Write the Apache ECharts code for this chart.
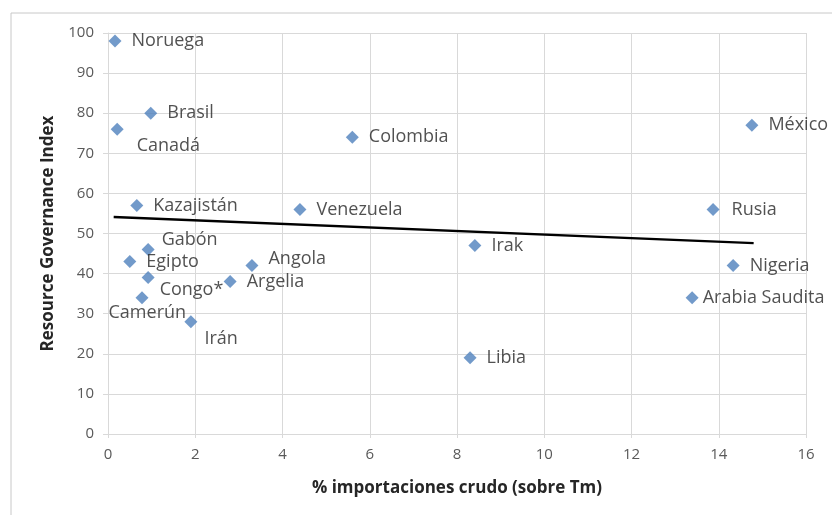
<!DOCTYPE html>
<html>
<head>
<meta charset="utf-8">
<script src="https://cdn.jsdelivr.net/npm/echarts@6/dist/echarts.min.js"></script>
<style>
  html, body { margin: 0; padding: 0; background: #fff; }
  #chart { width: 832px; height: 515px; }
</style>
</head>
<body>
<div id="chart"></div>
<script>
const countries = ['Noruega', 'Brasil', 'Canadá', 'Colombia', 'México', 'Kazajistán', 'Venezuela', 'Rusia',
  'Gabón', 'Egipto', 'Angola', 'Irak', 'Nigeria', 'Congo*', 'Argelia', 'Arabia Saudita', 'Camerún', 'Irán', 'Libia']
const importPct = [0.16, 0.98, 0.21, 5.6, 14.76, 0.66, 4.4, 13.87, 0.92, 0.5, 3.3, 8.41, 14.33, 0.92, 2.8, 13.39, 0.78, 1.9, 8.3]
const rgiScore = [98, 80, 76, 74, 77, 57, 56, 56, 46, 43, 42, 47, 42, 39, 38, 34, 34, 28, 19]
// trend line end points
const trendX = [0.13, 14.8]
const trendY = [54.1, 47.6]

// label nudges so names sit where the original has them
const labelOffsets = {
  'Canadá': [3, 17],
  'Gabón': [-3, -10],
  'Congo*': [-5, 12],
  'Camerún': [-50, 15],
  'Irán': [-3, 17],
  'Angola': [0, -7],
  'Rusia': [2, 0],
  'Arabia Saudita': [-6, 0]
}

const chart = echarts.init(document.getElementById('chart'))

const points = countries.map((name, i) => ({
  name,
  value: [importPct[i], rgiScore[i]],
  label: { offset: labelOffsets[name] || [0, 0] }
}))

const font = '"Open Sans", "Noto Sans", sans-serif'

const option = {
  backgroundColor: '#fff',
  animation: false,
  graphic: [{
    type: 'rect',
    shape: { x: 11, y: 13, width: 840, height: 540 },
    style: { fill: 'none', stroke: '#c8c8c8', lineWidth: 1 },
    silent: true
  }],
  grid: { left: 108, right: 26, top: 33, bottom: 81 },
  xAxis: {
    type: 'value',
    min: 0,
    max: 16,
    interval: 2,
    name: '% importaciones crudo (sobre Tm)',
    nameLocation: 'middle',
    nameGap: 46,
    nameTextStyle: { fontFamily: font, fontSize: 17, fontWeight: 'bold', color: '#262626' },
    axisLine: { show: true, lineStyle: { color: '#d9d9d9' } },
    axisTick: { show: true, length: 4, lineStyle: { color: '#d9d9d9' } },
    axisLabel: { fontFamily: font, fontSize: 15, color: '#595959', margin: 13 },
    splitLine: { show: true, lineStyle: { color: '#d9d9d9' } }
  },
  yAxis: {
    type: 'value',
    min: 0,
    max: 100,
    interval: 10,
    name: 'Resource Governance Index',
    nameLocation: 'middle',
    nameGap: 51,
    nameTextStyle: { fontFamily: font, fontSize: 17, fontWeight: 'bold', color: '#262626' },
    axisLine: { show: true, lineStyle: { color: '#d9d9d9' } },
    axisTick: { show: true, length: 5, lineStyle: { color: '#d9d9d9' } },
    axisLabel: { fontFamily: font, fontSize: 15, color: '#595959', margin: 14 },
    splitLine: { show: true, lineStyle: { color: '#d9d9d9' } }
  },
  series: [
    {
      type: 'line',
      data: trendX.map((x, i) => [x, trendY[i]]),
      symbol: 'none',
      lineStyle: { color: '#000', width: 2.5 },
      silent: true,
      z: 1
    },
    {
      type: 'scatter',
      data: points,
      symbol: 'diamond',
      symbolSize: 13,
      itemStyle: { color: '#4f81bd' },
      label: {
        show: true,
        position: 'right',
        distance: 10,
        formatter: '{b}',
        fontFamily: font,
        fontSize: 18,
        color: '#262626'
      },
      z: 3
    }
  ]
}

chart.setOption(option)
</script>
</body>
</html>
